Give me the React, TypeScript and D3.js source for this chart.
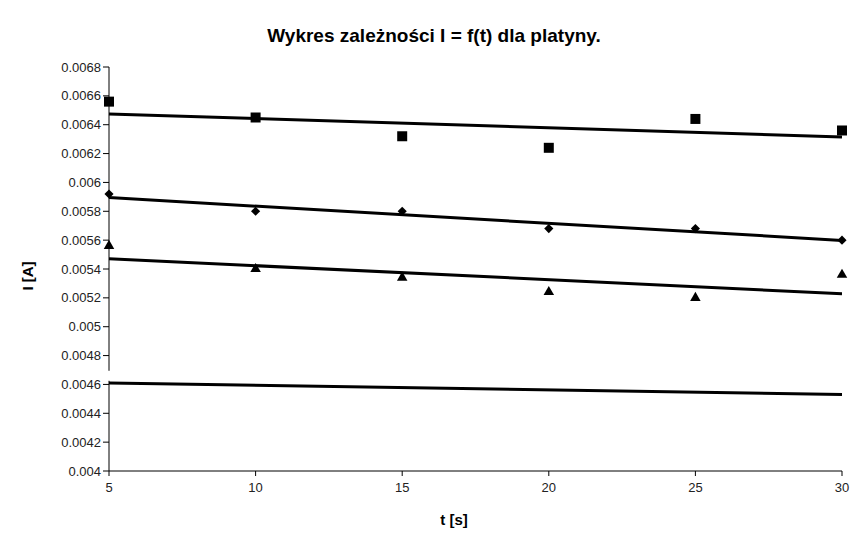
import * as d3 from 'd3';

// measurement times [s]
const tValues = [5, 10, 15, 20, 25, 30];

// current readings [A], one array per series
const seriesSquares = [0.00656, 0.00645, 0.00632, 0.00624, 0.00644, 0.00636];
const seriesDiamonds = [0.00592, 0.0058, 0.0058, 0.00568, 0.00568, 0.0056];
const seriesTriangles = [0.00556, 0.0054, 0.00534, 0.00524, 0.0052, 0.00536];

// fourth series: markers are white (hidden), only its trendline shows
const hiddenFirstPoint = 0.00466;
const hiddenTrendEnds = [0.00461, 0.00453];

const yTicks = [0.004, 0.0042, 0.0044, 0.0046, 0.0048, 0.005, 0.0052, 0.0054, 0.0056, 0.0058, 0.006, 0.0062, 0.0064, 0.0066, 0.0068];
const yTickLabels = ['0.004', '0.0042', '0.0044', '0.0046', '0.0048', '0.005', '0.0052', '0.0054', '0.0056', '0.0058', '0.006', '0.0062', '0.0064', '0.0066', '0.0068'];
const xTicks = [5, 10, 15, 20, 25, 30];

const WIDTH = 866;
const HEIGHT = 548;
const MARGIN = { top: 67, right: 24, bottom: 77, left: 109 };
const FONT = '"Liberation Sans", Arial, sans-serif';

// least squares fit, same as the spreadsheet's linear trendline
const fitLine = (xs: number[], ys: number[]) => {
  const mx = d3.mean(xs) as number;
  const my = d3.mean(ys) as number;
  let sxy = 0;
  let sxx = 0;
  xs.forEach((x, i) => {
    sxy += (x - mx) * (ys[i] - my);
    sxx += (x - mx) * (x - mx);
  });
  const slope = sxy / sxx;
  return (x: number) => my + slope * (x - mx);
};

export default function App() {
  const boundsWidth = WIDTH - MARGIN.left - MARGIN.right;
  const boundsHeight = HEIGHT - MARGIN.top - MARGIN.bottom;

  const xScale = d3.scaleLinear().domain([5, 30]).range([0, boundsWidth]);
  const yScale = d3.scaleLinear().domain([0.004, 0.0068]).range([boundsHeight, 0]);

  const xEnds = d3.extent(tValues) as [number, number];
  const line = d3
    .line<[number, number]>()
    .x((d) => xScale(d[0]))
    .y((d) => yScale(d[1]));

  const trends = [seriesSquares, seriesDiamonds, seriesTriangles].map((s) => {
    const f = fitLine(tValues, s);
    return line(xEnds.map((x) => [x, f(x)] as [number, number]));
  });
  const hiddenTrend = line(xEnds.map((x, i) => [x, hiddenTrendEnds[i]] as [number, number]));

  const square = d3.symbol(d3.symbolSquare, 100);
  const diamond = d3.symbol(d3.symbolSquare, 42); // rotated 45° below
  const triangle = d3.symbol(d3.symbolTriangle, 48);

  return (
    <svg width={WIDTH} height={HEIGHT} style={{ position: 'absolute', left: 0, top: 0, background: '#fff' }}>
      <text x={434} y={42} textAnchor="middle" fontFamily={FONT} fontWeight="bold" fontSize={19}>
        Wykres zależności I = f(t) dla platyny.
      </text>
      <g transform={`translate(${MARGIN.left},${MARGIN.top})`}>
        {/* axes */}
        <line x1={0} x2={0} y1={0} y2={boundsHeight} stroke="#000" strokeWidth={1} />
        <line x1={0} x2={boundsWidth} y1={boundsHeight} y2={boundsHeight} stroke="#000" strokeWidth={1} />
        {yTicks.map((t, i) => (
          <g key={`y-${i}`} transform={`translate(0,${yScale(t)})`}>
            <line x1={-6} x2={0} stroke="#000" />
            <text x={-8} dy="0.35em" textAnchor="end" fontFamily={FONT} fontSize={13} fill="#222">
              {yTickLabels[i]}
            </text>
          </g>
        ))}
        {xTicks.map((t) => (
          <g key={`x-${t}`} transform={`translate(${xScale(t)},${boundsHeight})`}>
            <line y1={0} y2={5} stroke="#000" />
            <text y={21} textAnchor="middle" fontFamily={FONT} fontSize={13} fill="#222">
              {t}
            </text>
          </g>
        ))}

        {/* hidden series marker (white) */}
        <rect
          x={xScale(tValues[0]) - 5}
          y={yScale(hiddenFirstPoint) - 5}
          width={10}
          height={10}
          fill="#fff"
        />

        {/* markers */}
        {seriesSquares.map((v, i) => (
          <path key={`s-${i}`} d={square() as string} transform={`translate(${xScale(tValues[i])},${yScale(v)})`} fill="#000" />
        ))}
        {seriesDiamonds.map((v, i) => (
          <path key={`d-${i}`} d={diamond() as string} transform={`translate(${xScale(tValues[i])},${yScale(v)}) rotate(45)`} fill="#000" />
        ))}
        {seriesTriangles.map((v, i) => (
          <path key={`t-${i}`} d={triangle() as string} transform={`translate(${xScale(tValues[i])},${yScale(v)})`} fill="#000" />
        ))}

        {/* trendlines */}
        {trends.map((d, i) => (
          <path key={`tr-${i}`} d={d as string} fill="none" stroke="#000" strokeWidth={3} />
        ))}
        <path d={hiddenTrend as string} fill="none" stroke="#000" strokeWidth={3} />
      </g>
      <text x={454} y={525} textAnchor="middle" fontFamily={FONT} fontWeight="bold" fontSize={15}>
        t [s]
      </text>
      <text
        transform={`translate(33,276) rotate(-90)`}
        textAnchor="middle"
        fontFamily={FONT}
        fontWeight="bold"
        fontSize={15}
      >
        I [A]
      </text>
    </svg>
  );
}
